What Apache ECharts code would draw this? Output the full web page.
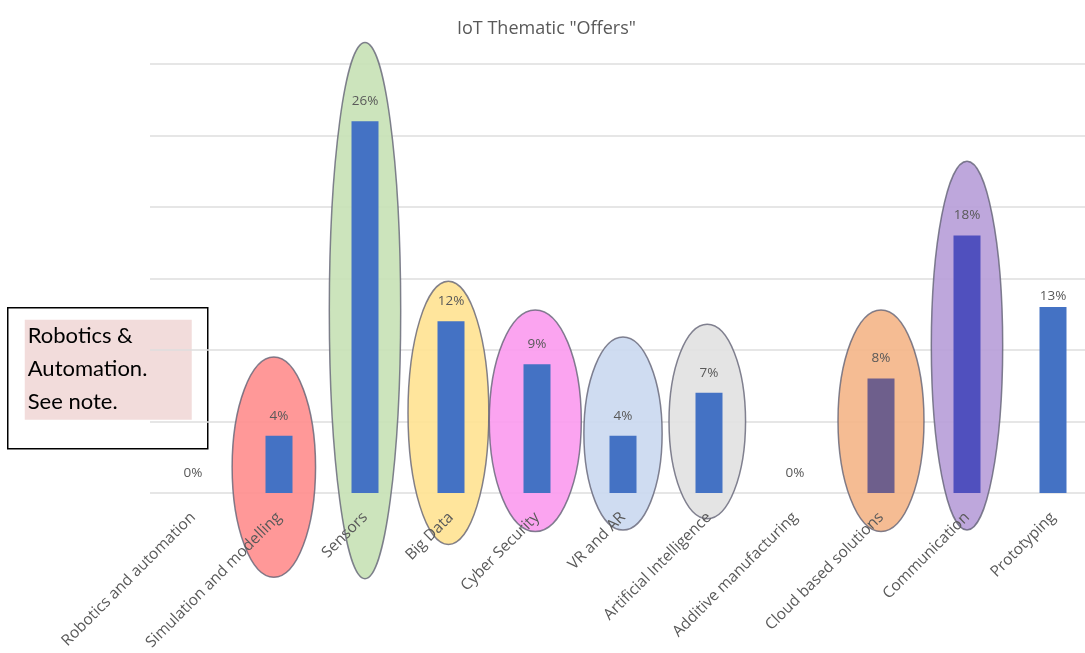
<!DOCTYPE html>
<html>
<head>
<meta charset="utf-8">
<title>IoT Thematic "Offers"</title>
<script src="https://cdn.jsdelivr.net/npm/echarts@6/dist/echarts.min.js"></script>
<style>
  html, body { margin: 0; padding: 0; background: #ffffff; overflow: hidden; }
  /* the plot runs slightly past the right edge of the window */
  #chart { width: 1100px; height: 653px; }
</style>
</head>
<body>
<div id="chart"></div>
<script>
// Thematic areas and their share of offers (%)
var categories = [
  'Robotics and automation', 'Simulation and modelling', 'Sensors', 'Big Data',
  'Cyber Security', 'VR and AR', 'Artificial Intelligence', 'Additive manufacturing',
  'Cloud based solutions', 'Communication', 'Prototyping'
];
var offerShare = [0, 4, 26, 12, 9, 4, 7, 0, 8, 18, 13];

// Highlight ovals: category index, top and bottom (in % units), width and shift (in category bands)
var ovalCategory = [1, 2, 3, 4, 5, 6, 8, 9];
var ovalTop      = [9.5, 31.5, 14.8, 12.8, 10.9, 11.8, 12.8, 23.2];
var ovalBottom   = [-5.9, -6.0, -3.6, -2.7, -2.6, -1.8, -2.7, -2.6];
var ovalWidth    = [0.97, 0.83, 0.94, 1.07, 0.91, 0.89, 1.0, 0.83];
var ovalShift    = [-0.06, 0, -0.03, -0.02, 0, -0.02, 0, 0];

// Oval fills and bar tints
var ovalFill = ['#ff8f8f', '#c8e2b6', '#ffe394', '#fb9cef', '#cbd9f0', '#e2e2e2', '#f4b68a', '#b9a0d9'];
var barBlue = '#4472c4';
var barTint = { 8: '#6e5f8c', 9: '#5050be' };

var textGrey = '#595959';

var barData = offerShare.map(function (v, i) {
  var item = { value: v };
  if (barTint[i]) item.itemStyle = { color: barTint[i] };
  if (i === 10) item.label = { distance: 4 };
  return item;
});

var ovalData = ovalCategory.map(function (c, i) {
  return [c, ovalTop[i], ovalBottom[i], ovalWidth[i], ovalShift[i]];
});

var chart = echarts.init(document.getElementById('chart'), null, { renderer: 'canvas' });

chart.setOption({
  animation: false,
  backgroundColor: '#ffffff',
  title: {
    text: 'IoT Thematic "Offers"',
    left: 452,
    top: 15,
    textStyle: { color: textGrey, fontFamily: 'Open Sans', fontSize: 18, fontWeight: 'normal' }
  },
  grid: { left: 150, top: 64, width: 946, height: 429, containLabel: false },
  xAxis: {
    type: 'category',
    data: categories,
    z: 4,
    axisLine: { show: false },
    axisTick: { show: false },
    axisLabel: {
      rotate: 45,
      interval: 0,
      margin: 22,
      color: textGrey,
      fontFamily: 'Open Sans',
      fontSize: 15.5
    }
  },
  yAxis: {
    type: 'value',
    min: 0,
    max: 30,
    interval: 5,
    axisLabel: { show: false },
    axisLine: { show: false },
    axisTick: { show: false },
    splitLine: { lineStyle: { color: '#dedede', width: 1.5 } }
  },
  series: [
    {
      type: 'custom',
      z: 1,
      clip: false,
      silent: true,
      data: ovalData,
      renderItem: function (params, api) {
        var top = api.coord([api.value(0), api.value(1)]);
        var bottom = api.coord([api.value(0), api.value(2)]);
        var band = api.size([1, 0])[0];
        return {
          type: 'ellipse',
          shape: {
            cx: top[0] + api.value(4) * band,
            cy: (top[1] + bottom[1]) / 2,
            rx: api.value(3) * band / 2,
            ry: (bottom[1] - top[1]) / 2
          },
          style: {
            fill: ovalFill[params.dataIndex],
            stroke: 'rgba(95,95,115,0.85)',
            lineWidth: 1.5,
            opacity: 0.92
          }
        };
      }
    },
    {
      type: 'bar',
      z: 3,
      barWidth: 27,
      data: barData,
      itemStyle: { color: barBlue },
      label: {
        show: true,
        position: 'top',
        distance: 13,
        color: textGrey,
        fontFamily: 'Open Sans',
        fontSize: 13.5,
        formatter: '{c}%'
      }
    }
  ],
  graphic: [
    {
      type: 'group',
      left: 7,
      top: 307,
      children: [
        {
          type: 'rect',
          shape: { x: 0, y: 0, width: 200, height: 141 },
          style: { fill: '#ffffff', stroke: '#000000', lineWidth: 1.5 }
        },
        {
          type: 'rect',
          shape: { x: 17, y: 12, width: 167, height: 100 },
          style: { fill: '#f2dcdb' }
        },
        {
          type: 'text',
          x: 20,
          y: 12,
          style: {
            text: 'Robotics &\nAutomation.\nSee note.',
            fill: '#000000',
            fontFamily: 'Lato',
            fontSize: 22,
            lineHeight: 33
          }
        }
      ]
    }
  ]
});
</script>
</body>
</html>
